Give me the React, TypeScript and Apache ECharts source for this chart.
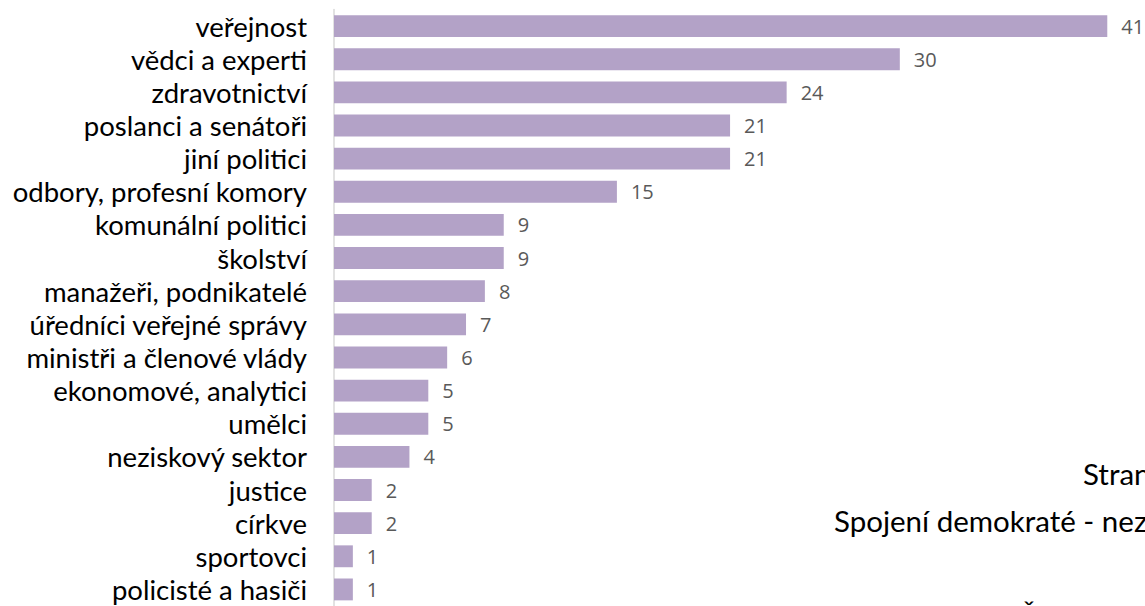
import React, { useEffect, useRef } from "react";
import * as echarts from "echarts";

const categories = [
  "veřejnost",
  "vědci a experti",
  "zdravotnictví",
  "poslanci a senátoři",
  "jiní politici",
  "odbory, profesní komory",
  "komunální politici",
  "školství",
  "manažeři, podnikatelé",
  "úředníci veřejné správy",
  "ministři a členové vlády",
  "ekonomové, analytici",
  "umělci",
  "neziskový sektor",
  "justice",
  "církve",
  "sportovci",
  "policisté a hasiči",
];
const values = [41, 30, 24, 21, 21, 15, 9, 9, 8, 7, 6, 5, 5, 4, 2, 2, 1, 1];
const sideTexts = ["Strana", "Spojení demokraté - nezávislí", "ČSSD"];

export default function App() {
  const ref = useRef<HTMLDivElement>(null);
  useEffect(() => {
    if (!ref.current) return;
    const chart = echarts.init(ref.current, null, { renderer: "svg" });
    chart.setOption({
      animation: false,
      backgroundColor: "#ffffff",
      grid: { left: 334, top: 9.5, right: 0, bottom: -0.5, containLabel: false },
      xAxis: {
        type: "value",
        min: 0,
        max: 43,
        show: false,
      },
      yAxis: {
        type: "category",
        inverse: true,
        data: categories,
        axisLine: { show: true, lineStyle: { color: "#d9d9d9", width: 1.5 } },
        axisTick: { show: false },
        axisLabel: {
          interval: 0,
          margin: 27,
          fontSize: 27.5,
          fontFamily: "Lato",
          color: "#000000",
        },
      },
      series: [
        {
          type: "bar",
          data: values,
          barCategoryGap: "34%",
          itemStyle: { color: "#b3a2c7" },
          label: {
            show: true,
            position: "right",
            distance: 14,
            fontSize: 20,
            fontFamily: "Open Sans",
            color: "#595959",
          },
        },
      ],
      graphic: [
        {
          type: "text",
          left: 1083,
          top: 458,
          style: { text: sideTexts[0], fontSize: 29.5, fontFamily: "Lato", fill: "#000" },
        },
        {
          type: "text",
          left: 834,
          top: 505,
          style: { text: sideTexts[1], fontSize: 29.5, fontFamily: "Lato", fill: "#000" },
        },
        {
          type: "text",
          left: 1017,
          top: 601,
          style: { text: sideTexts[2], fontSize: 29.5, fontFamily: "Lato", fill: "#000" },
        },
      ],
    });
    return () => chart.dispose();
  }, []);
  return (
    <div
      ref={ref}
      style={{ position: "fixed", left: 0, top: 0, width: 1145, height: 606, overflow: "hidden" }}
    />
  );
}
